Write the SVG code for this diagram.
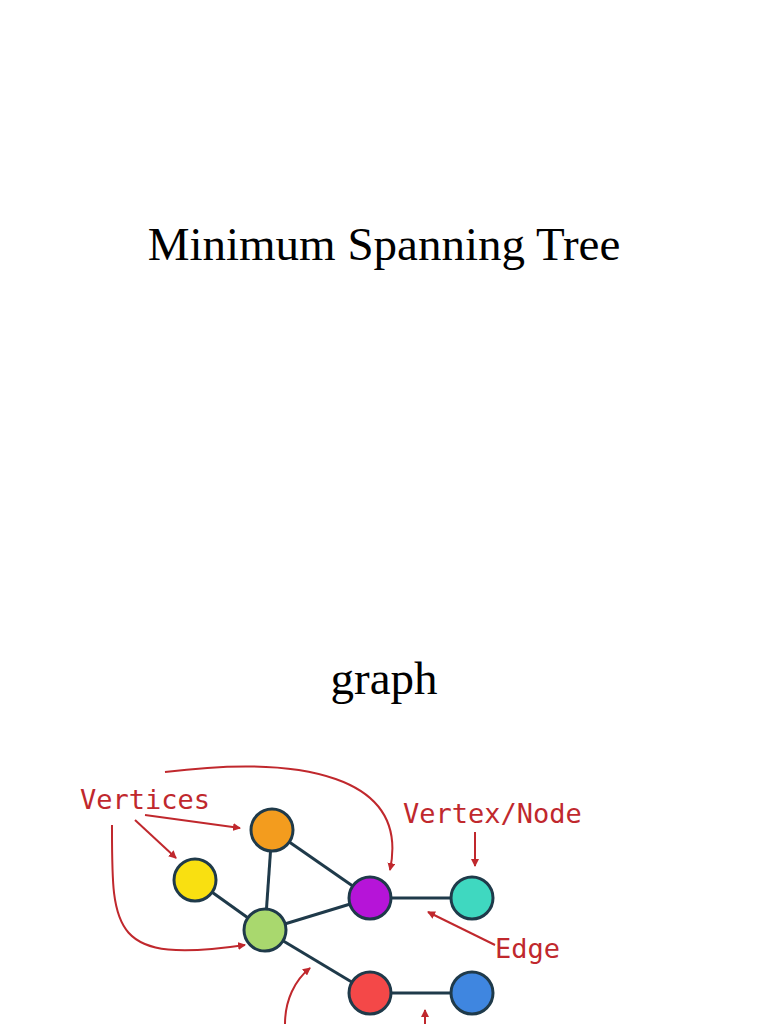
<svg xmlns="http://www.w3.org/2000/svg" width="768" height="1024" viewBox="0 0 768 1024">
<defs><marker id="ah" markerWidth="8" markerHeight="8" refX="7" refY="4" orient="auto" markerUnits="userSpaceOnUse"><path d="M0,0 L8,4 L0,8 z" fill="#c0282d"/></marker></defs>
<style>
.t{font-family:"Liberation Serif",serif;font-size:47px;fill:#000}
.l{font-family:"DejaVu Sans Mono",monospace;font-size:27px;fill:#c0282d}
.e{stroke:#1f3a4a;stroke-width:3}
.a{stroke:#c0282d;stroke-width:2;fill:none;marker-end:url(#ah)}
.n{stroke:#1f3a4a;stroke-width:3}
</style>
<rect width="768" height="1024" fill="#fff"/>
<text class="t" x="384" y="260" text-anchor="middle">Minimum Spanning Tree</text>
<text class="t" x="384" y="694" text-anchor="middle">graph</text>
<g id="edges">
<line class="e" x1="272" y1="830" x2="265" y2="930"/>
<line class="e" x1="272" y1="830" x2="370" y2="898"/>
<line class="e" x1="195" y1="880" x2="265" y2="930"/>
<line class="e" x1="265" y1="930" x2="370" y2="898"/>
<line class="e" x1="370" y1="898" x2="472" y2="898"/>
<line class="e" x1="265" y1="930" x2="370" y2="993"/>
<line class="e" x1="370" y1="993" x2="472" y2="993"/>
</g>
<g id="arrows">
<path class="a" d="M145,815 L240,828"/>
<path class="a" d="M135,820 L176,858"/>
<path class="a" d="M112,825 C112,930 110,965 245,945"/>
<path class="a" d="M165,772 C300,755 410,775 390,870"/>
<path class="a" d="M475,832 L475,866"/>
<path class="a" d="M495,945 L428,912"/>
<path class="a" d="M285,1024 C285,1000 295,980 310,968"/>
<path class="a" d="M425,1024 L425,1010"/>
</g>
<g id="labels">
<text class="l" x="80" y="809">Vertices</text>
<text class="l" x="403" y="823">Vertex/Node</text>
<text class="l" x="495" y="958">Edge</text>
</g>
<g id="n-orange"><circle class="n" cx="272" cy="830" r="21" fill="#f39c1e"/></g>
<g id="n-yellow"><circle class="n" cx="195" cy="880" r="21" fill="#f9e011"/></g>
<g id="n-green"><circle class="n" cx="265" cy="930" r="21" fill="#a9d86e"/></g>
<g id="n-purple"><circle class="n" cx="370" cy="898" r="21" fill="#b614d8"/></g>
<g id="n-teal"><circle class="n" cx="472" cy="898" r="21" fill="#3fd8c0"/></g>
<g id="n-red"><circle class="n" cx="370" cy="993" r="21" fill="#f44848"/></g>
<g id="n-blue"><circle class="n" cx="472" cy="993" r="21" fill="#3f86e0"/></g>
</svg>
